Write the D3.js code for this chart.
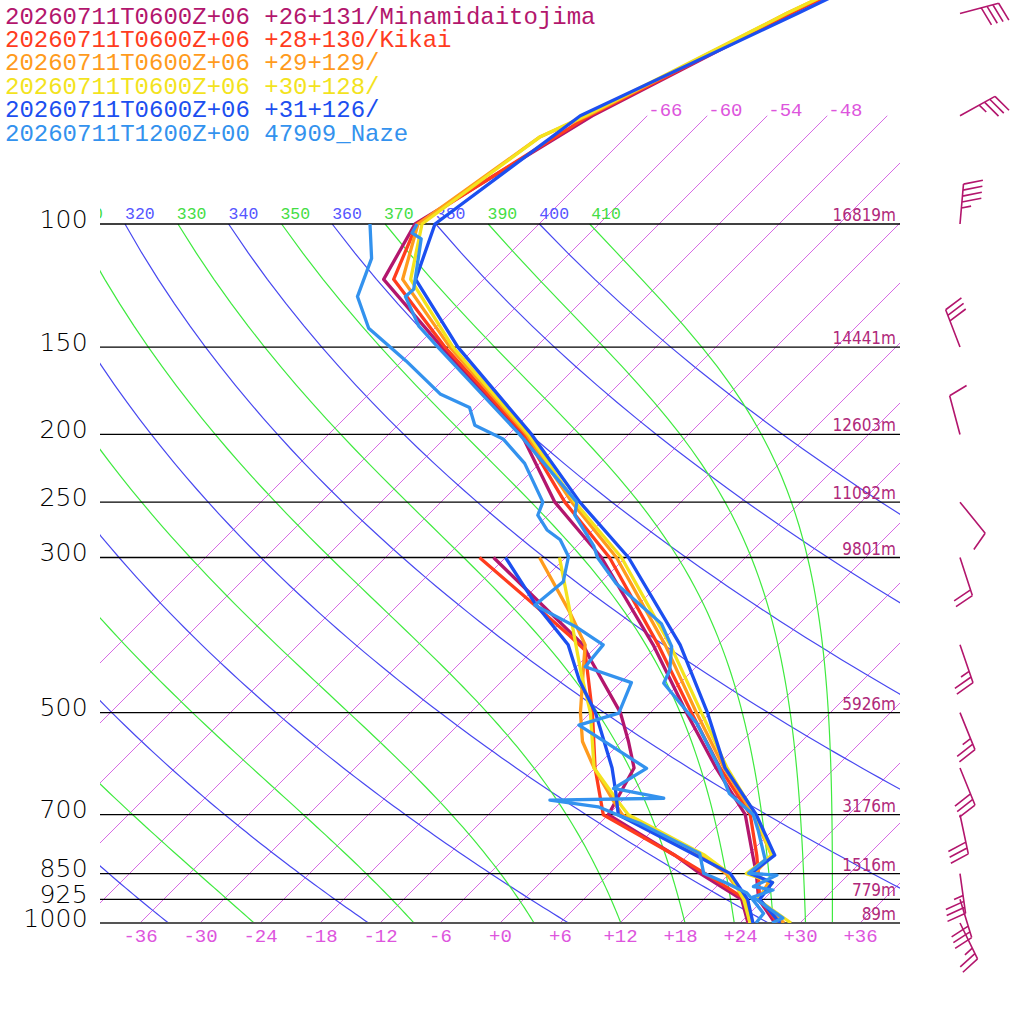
<!DOCTYPE html>
<html>
<head>
<meta charset="utf-8">
<script src="https://cdn.jsdelivr.net/npm/d3@7"></script>
<style>
  body { margin: 0; background: #fff; }
  svg { display: block; }
</style>
</head>
<body>
<script>
(function(){

  // ---- data: [pressure hPa, degC] ----
  var minamiTemp = [[1000,27.5],[925,23.5],[850,20.7],[800,18.5],[700,13.7],[600,6.1],[500,-2.4],[400,-12.5],[300,-26.4],[250,-36.6],[200,-46.7],[150,-63.4],[120,-76.0],[100,-78.4],[70,-71.5],[50,-61.9],[40,-54.7]];
  var minamiDew  = [[1000,24.8],[925,21.8],[850,15.1],[800,10.7],[700,0.0],[600,-2.1],[550,-5.3],[500,-9.0],[418,-17.5],[400,-19.5],[300,-37.2]];
  var kikaiTemp  = [[1000,27.8],[925,23.6],[850,20.9],[800,18.9],[700,14.2],[600,6.5],[500,-1.9],[400,-12.0],[300,-25.6],[250,-35.6],[200,-46.4],[150,-63.1],[120,-75.0],[100,-78.2],[70,-71.8],[50,-62.0],[40,-54.6]];
  var kikaiDew   = [[1000,25.0],[925,22.2],[850,15.6],[800,10.7],[700,-0.5],[600,-6.0],[500,-11.8],[407,-18.8],[388,-21.8],[350,-28.5],[300,-38.6]];
  var p29Temp    = [[1000,28.4],[925,23.5],[875,22.8],[850,20.5],[800,20.4],[700,14.5],[600,6.9],[500,-1.4],[400,-11.3],[300,-24.9],[250,-34.9],[200,-46.2],[150,-62.6],[120,-74.1],[100,-78.1],[75,-74.6],[70,-72.0],[50,-62.3],[40,-54.8]];
  var p29Dew     = [[1000,25.0],[925,22.2],[850,17.7],[800,13.2],[700,1.4],[667,-1.0],[600,-6.1],[550,-9.9],[500,-13.0],[425,-17.6],[400,-19.3],[360,-24.0],[300,-32.6]];
  var p30Temp    = [[1000,29.1],[925,23.4],[875,23.2],[850,19.7],[800,20.4],[700,14.7],[600,7.2],[500,-0.9],[400,-10.8],[300,-24.4],[250,-34.6],[200,-46.0],[150,-62.3],[120,-73.3],[100,-77.7],[75,-74.6],[70,-72.2],[50,-62.3],[40,-55.0]];
  var p30Dew     = [[1000,25.0],[925,22.0],[850,18.0],[800,13.7],[700,2.0],[667,-0.6],[600,-6.1],[500,-12.0],[440,-16.8],[385,-21.6],[355,-24.5],[300,-30.6]];
  var p31Temp    = [[1000,28.0],[925,23.6],[875,23.2],[850,20.1],[800,20.7],[700,14.8],[600,7.0],[500,-0.3],[400,-9.8],[300,-23.7],[250,-34.1],[200,-45.7],[150,-61.8],[120,-72.8],[100,-76.4],[70,-72.7],[50,-61.2],[40,-54.0]];
  var p31Dew     = [[1000,25.3],[925,22.4],[850,18.1],[800,12.8],[700,1.0],[650,-1.5],[600,-4.3],[500,-11.5],[450,-16.3],[400,-21.0],[350,-28.3],[300,-36.0]];
  var nazeTemp   = [[1000,27.2],[984,27.8],[918,22.7],[897,24.0],[887,21.7],[854,22.9],[849,19.9],[812,20.2],[736,16.5],[700,14.5],[653,10.0],[597,6.2],[518,-0.3],[454,-7.6],[435,-8.3],[402,-10.5],[373,-13.8],[327,-22.3],[300,-26.8],[289,-28.3],[261,-33.3],[250,-34.4],[200,-46.9],[150,-63.8],[140,-67.8],[127,-72.1],[124,-72.0],[105,-76.3],[103,-77.8],[100,-78.2]];
  var nazeDew    = [[1000,25.6],[969,25.4],[927,23.0],[906,21.7],[877,18.7],[849,15.4],[795,13.0],[720,4.0],[704,1.5],[682,-1.8],[667,-7.3],[663,3.9],[642,-2.1],[601,-0.8],[521,-11.9],[501,-9.1],[453,-10.9],[430,-17.1],[400,-17.5],[377,-22.0],[351,-28.3],[325,-27.8],[299,-29.8],[283,-32.3],[274,-34.6],[261,-37.0],[250,-37.8],[220,-43.5],[203,-48.1],[194,-52.3],[183,-54.6],[175,-58.9],[157,-65.6],[141,-72.6],[127,-76.9],[112,-79.3],[100,-82.9]];

  var seriesNames  = ['20260711T0600Z+06 +26+131/Minamidaitojima','20260711T0600Z+06 +28+130/Kikai','20260711T0600Z+06 +29+129/','20260711T0600Z+06 +30+128/','20260711T0600Z+06 +31+126/','20260711T1200Z+00 47909_Naze'];
  var seriesColors = ['#b3166d','#ff3c1e','#ff9b1d','#f3e31e','#1c4ff0','#3392ee'];
  var seriesTemp   = [minamiTemp, kikaiTemp, p29Temp, p30Temp, p31Temp, nazeTemp];
  var seriesDew    = [minamiDew, kikaiDew, p29Dew, p30Dew, p31Dew, nazeDew];

  // wind (Minamidaitojima): direction deg, speed kt
  var windLevels = [50,70,100,150,200,250,300,400,500,600,700,850,925,1000];
  var windDir    = [75,61,5,339,345,141,162,161,158,158,168,172,163,154];
  var windSpeed  = [40,35,45,30,10,10,20,25,25,30,30,35,30,25];

  // axes and reference lines
  var pressureLabels = [100,150,200,250,300,500,700,850,925,1000];
  var heightLabels   = ['16819m','14441m','12603m','11092m','9801m','5926m','3176m','1516m','779m','89m'];
  var tempTicks      = [-36,-30,-24,-18,-12,-6,0,6,12,18,24,30,36];
  var isotherms      = d3.range(-66, 37, 6);
  var dryTheta       = [240,260,280,300,320,340,360,380,400];
  var moistThetaE    = [250,270,290,310,330,350,370,390,410];
  var thetaLabels    = [310,320,330,340,350,360,370,380,390,400,410];

  var W = 1024, H = 1024;
  var left = 100, right = 900;
  var mono = "'Liberation Mono','DejaVu Sans Mono',monospace";
  var narrow = "'DejaVu Sans Condensed','Liberation Sans Narrow','DejaVu Sans',sans-serif";

  var svg = d3.select('body').append('svg')
    .attr('width', W)
    .attr('height', H);

  var y = d3.scaleLog().domain([1000, 100]).range([923, 224]);
  var xT = d3.scaleLinear().domain([-40, 40]).range([left, right]);
  var yBase = y(1000);

  // skewed x: 45 degree isotherms
  var sx = function(t, p){ return xT(t) + (yBase - y(p)); };

  svg.append('defs').append('clipPath').attr('id', 'plot')
    .append('rect').attr('x', left).attr('y', -300).attr('width', right - left).attr('height', yBase + 300);

  var grid = svg.append('g').attr('clip-path', 'url(#plot)');

  var line = d3.line()
    .x(function(d){ return sx(d[1], d[0]); })
    .y(function(d){ return y(d[0]); });

  var pSteps = d3.range(1000, 99, -10);

  // isotherms
  grid.selectAll('.iso').data(isotherms).enter().append('line')
    .attr('x1', function(t){ return sx(t, 1000); })
    .attr('y1', y(1000))
    .attr('x2', function(t){ return sx(t, 70); })
    .attr('y2', y(70))
    .attr('stroke', '#d259e2')
    .attr('stroke-width', 0.9);

  // dry adiabats
  grid.selectAll('.dry').data(dryTheta).enter().append('path')
    .attr('d', function(th){
      return line(pSteps.map(function(p){ return [p, th * Math.pow(p / 1000, 0.2857) - 273.15]; }));
    })
    .attr('fill', 'none')
    .attr('stroke', '#4848f0')
    .attr('stroke-width', 1.2);

  // moist (pseudo) adiabats via Bolton theta-e
  var thetaE = function(tk, p){
    var tc = tk - 273.15;
    var es = 6.112 * Math.exp(17.67 * tc / (tc + 243.5));
    var r = 622 * es / (p - es);
    return tk * Math.pow(1000 / p, 0.2854 * (1 - 0.00028 * r)) *
      Math.exp((3.376 / tk - 0.00254) * r * (1 + 0.00081 * r));
  };
  var solveT = function(te, p){
    var lo = 150, hi = 310;
    for (var i = 0; i < 50; i++){
      var mid = (lo + hi) / 2;
      if (thetaE(mid, p) > te) hi = mid; else lo = mid;
    }
    return (lo + hi) / 2 - 273.15;
  };
  grid.selectAll('.moist').data(moistThetaE).enter().append('path')
    .attr('d', function(te){
      return line(pSteps.map(function(p){ return [p, solveT(te, p)]; }));
    })
    .attr('fill', 'none')
    .attr('stroke', '#3fea3f')
    .attr('stroke-width', 1.2);

  // theta labels along the 100 hPa line
  grid.selectAll('.thl').data(thetaLabels).enter().append('text')
    .attr('x', function(th){ return sx(th * Math.pow(0.1, 0.2857) - 273.15, 100); })
    .attr('y', y(100) - 5)
    .attr('font-family', mono)
    .attr('font-size', 16.5)
    .attr('fill', function(th){ return (th / 10) % 2 ? '#44dd44' : '#5555ff'; })
    .text(function(th){ return th; });

  // isotherm labels at 70 hPa
  svg.selectAll('.isol').data(isotherms.filter(function(t){ return sx(t, 70) > left && sx(t, 70) + 36 < right; }))
    .enter().append('text')
    .attr('x', function(t){ return sx(t, 70) + 1; })
    .attr('y', y(70))
    .attr('font-family', mono)
    .attr('font-size', 19)
    .attr('fill', '#dd55dd')
    .text(function(t){ return t; });

  // pressure lines
  svg.selectAll('.pl').data(pressureLabels).enter().append('line')
    .attr('x1', left).attr('x2', right)
    .attr('y1', function(p){ return y(p); })
    .attr('y2', function(p){ return y(p); })
    .attr('stroke', function(p){ return p === 1000 ? '#555' : '#000'; })
    .attr('stroke-width', function(p){ return p === 1000 ? 2.2 : 1.3; });

  // pressure axis
  var pAxis = svg.append('g')
    .attr('transform', 'translate(' + left + ',0)')
    .call(d3.axisLeft(y).tickValues(pressureLabels).tickFormat(d3.format('d')).tickSize(0).tickPadding(12));
  pAxis.select('.domain').remove();
  pAxis.selectAll('text')
    .attr('dy', 3)
    .attr('font-family', "'DejaVu Sans',sans-serif")
    .attr('font-weight', 200)
    .attr('letter-spacing', 0.3)
    .attr('font-size', 25)
    .attr('fill', '#000');

  // temperature axis
  var tAxis = svg.append('g')
    .attr('transform', 'translate(0,' + yBase + ')')
    .call(d3.axisBottom(xT).tickValues(tempTicks)
      .tickFormat(function(t){ return (t >= 0 ? '+' : '') + t; })
      .tickSize(0).tickPadding(6));
  tAxis.select('.domain').remove();
  tAxis.selectAll('text')
    .attr('font-family', mono)
    .attr('font-size', 19)
    .attr('fill', '#dd55dd');

  // heights
  svg.selectAll('.hl').data(pressureLabels).enter().append('text')
    .attr('x', right - 4)
    .attr('y', function(p){ return y(p) - 3; })
    .attr('text-anchor', 'end')
    .attr('font-family', narrow)
    .attr('font-stretch', 'condensed')
    .attr('font-size', 17)
    .attr('fill', '#b0287a')
    .text(function(p, i){ return heightLabels[i]; });

  // profiles
  var prof = svg.append('g').attr('clip-path', 'url(#plot)');
  seriesTemp.forEach(function(temp, i){
    [seriesDew[i], temp].forEach(function(d){
      prof.append('path')
        .attr('d', line(d))
        .attr('fill', 'none')
        .attr('stroke', seriesColors[i])
        .attr('stroke-width', 3.3)
        .attr('stroke-linejoin', 'round');
    });
  });

  // wind barbs
  var barbs = svg.append('g')
    .attr('stroke', '#b3166d')
    .attr('stroke-width', 1.6)
    .attr('fill', 'none');
  var staff = 40, full = 19, gap = 6, lean = 0.29;
  windLevels.forEach(function(p, i){
    var a = windDir[i] * Math.PI / 180;
    var dx = Math.sin(a), dy = -Math.cos(a);
    var px = -dy, py = dx;
    var x0 = 960, y0 = y(p);
    var tx = x0 + dx * staff, ty = y0 + dy * staff;
    var d = 'M' + x0 + ',' + y0 + 'L' + tx + ',' + ty;
    var n = Math.floor(windSpeed[i] / 10);
    var half = windSpeed[i] % 10 >= 5;
    var k;
    for (k = 0; k < n; k++){
      var bx = tx - dx * gap * k, by = ty - dy * gap * k;
      d += 'M' + bx + ',' + by + 'l' + (px + dx * lean) * full + ',' + (py + dy * lean) * full;
    }
    if (half){
      var pos = n === 0 ? 1 : n;
      var hx = tx - dx * gap * pos, hy = ty - dy * gap * pos;
      d += 'M' + hx + ',' + hy + 'l' + (px + dx * lean) * full / 2 + ',' + (py + dy * lean) * full / 2;
    }
    barbs.append('path').attr('d', d);
  });

  // legend
  svg.selectAll('.leg').data(seriesNames).enter().append('text')
    .attr('x', 5)
    .attr('y', function(d, i){ return 23.5 + i * 23.4; })
    .attr('font-family', mono)
    .attr('font-size', 24)
    .attr('fill', function(d, i){ return seriesColors[i]; })
    .attr('xml:space', 'preserve')
    .text(function(d){ return d; });

}());
</script>
</body>
</html>
